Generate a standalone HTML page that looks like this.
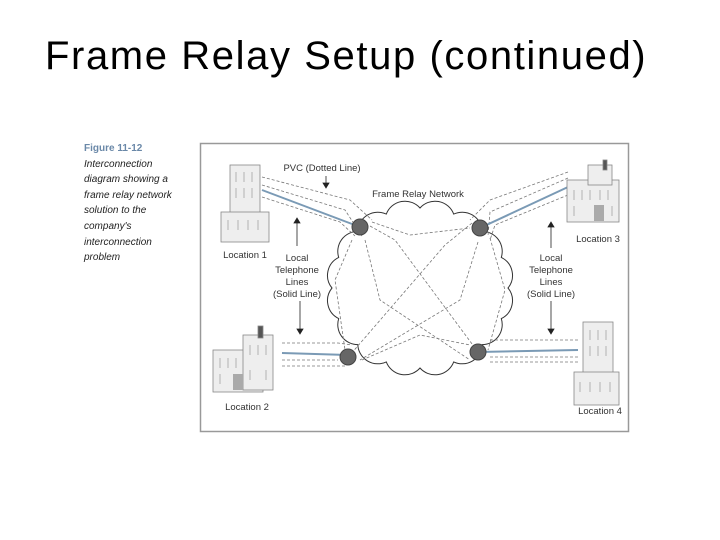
<!DOCTYPE html>
<html><head><meta charset="utf-8"><style>
body{margin:0;background:#fff;width:720px;height:540px;overflow:hidden;position:relative;font-family:"Liberation Sans",sans-serif}
.t{position:absolute;left:45px;top:34px;font-size:40px;color:#000;white-space:nowrap;letter-spacing:1.6px}
.cap{position:absolute;left:84px;top:141px;font-size:10px;line-height:15.6px;font-style:italic;color:#222}
.cap b{font-style:normal;color:#6a88a8}
</style></head><body>
<div class="t">Frame Relay Setup (continued)</div>
<div class="cap"><b>Figure 11-12</b><br>Interconnection<br>diagram showing a<br>frame relay network<br>solution to the<br>company's<br>interconnection<br>problem</div>
<svg width="720" height="540" style="position:absolute;left:0;top:0" font-family="Liberation Sans, sans-serif" font-size="9.5" fill="#333">
<rect x="200.5" y="143.5" width="428" height="288" fill="none" stroke="#999" stroke-width="1.5"/>
<path d="M508,288 A20,20 0 0 1 501.3,318.6 A20,20 0 0 1 482.2,344.6 A20,20 0 0 1 453.7,361.9 A20,20 0 0 1 420,368 A20,20 0 0 1 386.3,361.9 A20,20 0 0 1 357.8,344.6 A20,20 0 0 1 338.7,318.6 A20,20 0 0 1 332,288 A20,20 0 0 1 338.7,257.4 A20,20 0 0 1 357.8,231.4 A20,20 0 0 1 386.3,214.1 A20,20 0 0 1 420,208 A20,20 0 0 1 453.7,214.1 A20,20 0 0 1 482.2,231.4 A20,20 0 0 1 501.3,257.4 A20,20 0 0 1 508,288Z" fill="#fff" stroke="#333" stroke-width="1"/>
<g fill="none" stroke="#777" stroke-width="0.8" stroke-dasharray="3,2">
<path d="M262,177 L350,200 L372,220"/><path d="M262,185 L345,210 L362,236"/><path d="M262,197 L340,222 L355,236"/>
<path d="M568,172 L490,200 L470,220"/><path d="M568,178 L490,212 L488,236"/><path d="M568,195 L495,225 L490,240"/>
<path d="M282,343 L338,343 L352,345"/><path d="M282,360 L338,360"/><path d="M282,366 L345,366"/>
<path d="M578,340 L490,340"/><path d="M578,357 L490,357"/><path d="M578,362 L490,362"/>
<path d="M370,226 L395,240 L478,352"/><path d="M365,240 L380,300 L470,360"/>
<path d="M472,223 L445,245 L350,355"/><path d="M478,242 L460,300 L360,360"/>
<path d="M372,222 L410,235 L470,228"/><path d="M362,360 L420,335 L470,345"/>
<path d="M352,240 L335,280 L345,350"/><path d="M490,238 L505,290 L488,350"/>
</g>
<g stroke="#7a9ab5" stroke-width="2"><line x1="262" y1="190" x2="360" y2="227"/><line x1="568" y1="187" x2="480" y2="228"/><line x1="282" y1="353" x2="348" y2="355"/><line x1="578" y1="350" x2="478" y2="352"/></g>
<g fill="#666" stroke="#444"><circle cx="360" cy="227" r="8"/><circle cx="480" cy="228" r="8"/><circle cx="348" cy="357" r="8"/><circle cx="478" cy="352" r="8"/></g>
<g fill="#eee" stroke="#888" stroke-width="0.8">
<rect x="230" y="165" width="30" height="70"/><rect x="221" y="212" width="48" height="30"/>
<rect x="567" y="180" width="52" height="42"/><rect x="588" y="165" width="24" height="20"/><rect x="603" y="160" width="4" height="10" fill="#555"/>
<rect x="213" y="350" width="50" height="42"/><rect x="243" y="335" width="30" height="55"/><rect x="258" y="326" width="5" height="12" fill="#555"/>
<rect x="583" y="322" width="30" height="80"/><rect x="574" y="372" width="45" height="33"/>
</g>
<g fill="none" stroke="#999" stroke-width="0.7">
<path d="M236,172v10M244,172v10M252,172v10M236,188v10M244,188v10M252,188v10M228,220v10M238,220v10M248,220v10M258,220v10"/>
<path d="M574,190v10M582,190v10M590,190v10M600,190v10M608,190v10M574,206v10M612,206v10"/>
<path d="M220,358v10M228,358v10M236,358v10M250,345v10M258,345v10M266,345v10M220,374v10M250,370v10M266,370v10"/>
<path d="M590,330v10M598,330v10M606,330v10M590,346v10M598,346v10M606,346v10M580,382v10M590,382v10M600,382v10M610,382v10"/>
</g>
<g fill="#aaa"><rect x="594" y="205" width="10" height="16"/><rect x="233" y="374" width="10" height="16"/></g>
<g text-anchor="middle">
<text x="322" y="171">PVC (Dotted Line)</text>
<text x="418" y="197">Frame Relay Network</text>
<text x="245" y="258">Location 1</text><text x="598" y="242">Location 3</text>
<text x="247" y="410">Location 2</text><text x="600" y="414">Location 4</text>
<text x="297" y="261">Local</text><text x="297" y="273">Telephone</text><text x="297" y="285">Lines</text><text x="297" y="297">(Solid Line)</text>
<text x="551" y="261">Local</text><text x="551" y="273">Telephone</text><text x="551" y="285">Lines</text><text x="551" y="297">(Solid Line)</text>
</g>
<g stroke="#222" stroke-width="0.8" fill="#222">
<line x1="326" y1="176" x2="326" y2="184"/><path d="M323,183 L329,183 L326,188Z"/>
<line x1="297" y1="222" x2="297" y2="246"/><path d="M294,223 L300,223 L297,218Z"/>
<line x1="300" y1="301" x2="300" y2="330"/><path d="M297,329 L303,329 L300,334Z"/>
<line x1="551" y1="226" x2="551" y2="248"/><path d="M548,227 L554,227 L551,222Z"/>
<line x1="551" y1="301" x2="551" y2="330"/><path d="M548,329 L554,329 L551,334Z"/>
</g>
</svg>
</body></html>
